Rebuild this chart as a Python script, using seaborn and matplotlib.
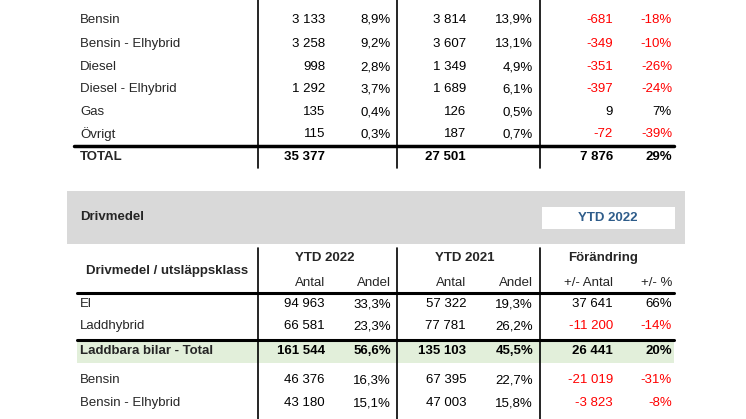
import matplotlib
matplotlib.use("Agg")
import matplotlib.pyplot as plt
import seaborn as sns

sns.set_style("white")
plt.rcParams["font.family"] = "Liberation Sans"

top_labels = ["Bensin", "Bensin - Elhybrid", "Diesel", "Diesel - Elhybrid", "Gas", "Övrigt"]
top_antal22 = ["3 133", "3 258", "998", "1 292", "135", "115"]
top_andel22 = ["8,9%", "9,2%", "2,8%", "3,7%", "0,4%", "0,3%"]
top_antal21 = ["3 814", "3 607", "1 349", "1 689", "126", "187"]
top_andel21 = ["13,9%", "13,1%", "4,9%", "6,1%", "0,5%", "0,7%"]
top_diff = ["-681", "-349", "-351", "-397", "9", "-72"]
top_pct = ["-18%", "-10%", "-26%", "-24%", "7%", "-39%"]
total_row = ["TOTAL", "35 377", "", "27 501", "", "7 876", "29%"]

bot_labels = ["El", "Laddhybrid", "Laddbara bilar - Total", "Bensin", "Bensin - Elhybrid"]
bot_antal22 = ["94 963", "66 581", "161 544", "46 376", "43 180"]
bot_andel22 = ["33,3%", "23,3%", "56,6%", "16,3%", "15,1%"]
bot_antal21 = ["57 322", "77 781", "135 103", "67 395", "47 003"]
bot_andel21 = ["19,3%", "26,2%", "45,5%", "22,7%", "15,8%"]
bot_diff = ["37 641", "-11 200", "26 441", "-21 019", "-3 823"]
bot_pct = ["66%", "-14%", "20%", "-31%", "-8%"]

W, H = 746, 419
fig = plt.figure(figsize=(W / 100, H / 100), dpi=100)
ax = fig.add_axes([0, 0, 1, 1])
ax.set_xlim(0, W)
ax.set_ylim(H, 0)
ax.axis("off")

FS = 9.5
colx = [325, 391, 466, 533, 613, 672]
vlines = [258, 397, 540]
LX = 80
RED = "#ff0000"

def row(y, label, vals, bold=False, colored=True):
    w = "bold" if bold else "normal"
    ax.text(LX, y, label, fontsize=FS, weight=w, va="center", ha="left")
    for i, v in enumerate(vals):
        c = "black"
        if colored and i >= 4 and v.startswith("-"):
            c = RED
        ax.text(colx[i], y, v, fontsize=FS, weight=w, va="center", ha="right", color=c)

# top table
tops = [20, 44, 67, 89, 112, 134]
for k, y in enumerate(tops):
    row(y, top_labels[k], [top_antal22[k], top_andel22[k], top_antal21[k],
                           top_andel21[k], top_diff[k], top_pct[k]])
row(157, total_row[0], total_row[1:], bold=True)
ax.plot([74, 674], [146, 146], color="black", lw=2.5)
for x in vlines:
    ax.plot([x, x], [0, 168], color="black", lw=1.2)

# gray band
ax.add_patch(plt.Rectangle((67, 191), 618, 53, color="#d9d9d9", lw=0))
ax.text(LX, 217, "Drivmedel", fontsize=FS, weight="bold", va="center")
ax.add_patch(plt.Rectangle((542, 207), 133, 22, color="white", lw=0))
ax.text(608, 218, "YTD 2022", fontsize=FS, weight="bold", va="center",
        ha="center", color="#2e5c8a")

# header
ax.text(325, 258, "YTD 2022", fontsize=FS, weight="bold", ha="center", va="center")
ax.text(465, 258, "YTD 2021", fontsize=FS, weight="bold", ha="center", va="center")
ax.text(603, 258, "Förändring", fontsize=FS, weight="bold", ha="center", va="center")
ax.text(167, 271, "Drivmedel / utsläppsklass", fontsize=FS, weight="bold", ha="center", va="center")
subs = ["Antal", "Andel", "Antal", "Andel", "+/- Antal", "+/- %"]
for i, s in enumerate(subs):
    ax.text(colx[i], 283, s, fontsize=FS, ha="right", va="center")
ax.plot([77, 674], [293, 293], color="black", lw=2.2)

# green band
ax.add_patch(plt.Rectangle((77, 340), 597, 23, color="#e2efda", lw=0))
ax.plot([77, 674], [340, 340], color="black", lw=2.2)

bys = [304, 326, 351, 380, 403]
for k, y in enumerate(bys):
    row(y, bot_labels[k], [bot_antal22[k], bot_andel22[k], bot_antal21[k],
                           bot_andel21[k], bot_diff[k], bot_pct[k]], bold=(k == 2))
for x in vlines:
    ax.plot([x, x], [248, H], color="black", lw=1.2)

fig.savefig("out.png", dpi=100)
